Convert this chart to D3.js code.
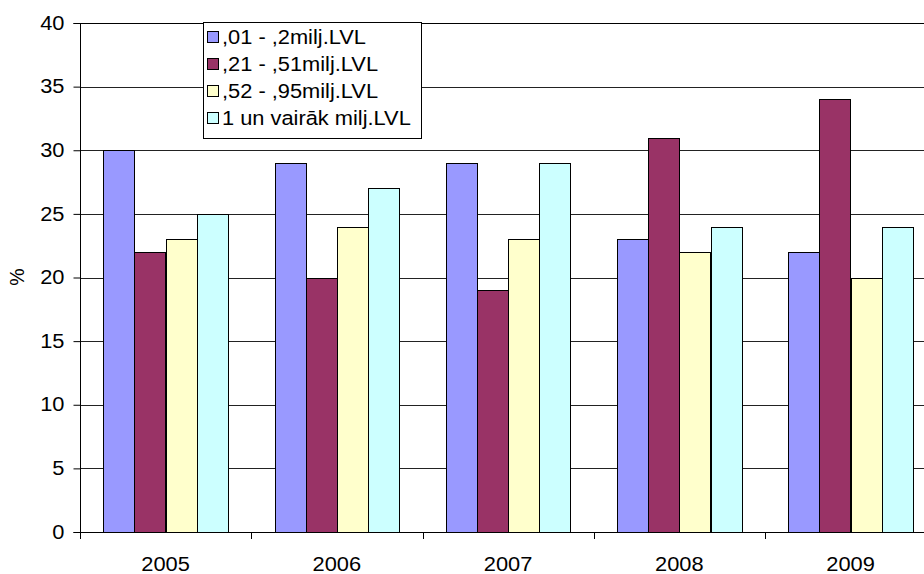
<!DOCTYPE html>
<html><head><meta charset="utf-8">
<script src="https://cdn.jsdelivr.net/npm/d3@7"></script>
<style>body{margin:0;background:#fff}svg{display:block}text{font-family:"Liberation Sans",Arial,sans-serif;fill:#000}</style>
</head><body><svg id="c" width="924" height="574"></svg>
<script>
const years = ["2005","2006","2007","2008","2009"];
const seriesNames = [",01 - ,2milj.LVL", ",21 - ,51milj.LVL", ",52 - ,95milj.LVL", "1 un vairāk milj.LVL"];
const s1 = [30, 29, 29, 23, 22];
const s2 = [22, 20, 19, 31, 34];
const s3 = [23, 24, 23, 22, 20];
const s4 = [25, 27, 29, 24, 24];
const colors = ["#9999FF", "#993366", "#FFFFCC", "#CCFFFF"];
const yTicks = [0,5,10,15,20,25,30,35,40];
const seriesVals = [s1, s2, s3, s4];

const svg = d3.select("#c");
const L = 80, T = 23, B = 532, catW = 171.25;
const R = L + catW * years.length;
const y = d3.scaleLinear().domain([0, 40]).range([B, T]);
const x0 = d3.scaleBand().domain(years).range([L, R]).padding(0);
const w = catW / 5.5;
const x1 = d3.scaleBand().domain(d3.range(4)).range([0.75 * w, 4.75 * w]).padding(0);
const fs = 19.5, sx = 1.12;

// gridlines
svg.append("g").selectAll("line").data(yTicks.filter(d => d > 0)).join("line")
  .attr("x1", L).attr("x2", R).attr("y1", d => Math.round(y(d)) + 0.5).attr("y2", d => Math.round(y(d)) + 0.5)
  .attr("stroke", d => d === 40 ? "#000" : "#222").attr("stroke-width", 1);

// bars
const g = svg.append("g");
years.forEach((yr, i) => {
  seriesVals.forEach((vals, j) => {
    g.append("rect")
      .attr("x", Math.round(x0(yr) + x1(j)) + 0.5)
      .attr("y", Math.round(y(vals[i])) + 0.5)
      .attr("width", Math.round(x1.bandwidth()))
      .attr("height", Math.round(y(0)) - Math.round(y(vals[i])))
      .attr("fill", colors[j]).attr("stroke", "#000").attr("stroke-width", 1);
  });
});

// y axis
const ya = svg.append("g").attr("transform", `translate(${L + 0.5},0)`)
  .call(d3.axisLeft(y).tickValues(yTicks).tickSize(7).tickPadding(9));
ya.select(".domain").attr("stroke", "#000").attr("d", `M-7,${T + 0.5}H0V${B + 0.5}H-7`);
ya.selectAll(".tick line").attr("stroke", "#000");
ya.selectAll(".tick text").attr("font-size", fs).attr("font-family", '"Liberation Sans",Arial,sans-serif').attr("fill", "#000")
  .attr("x", -16 / sx).attr("transform", `scale(${sx},1)`);

// x axis
const xa = svg.append("g").attr("transform", `translate(0,${B + 0.5})`)
  .call(d3.axisBottom(x0).tickSize(0).tickPadding(25));
xa.select(".domain").attr("stroke", "#000").attr("d", `M${L},0H${R}`);
xa.selectAll(".tick text").attr("font-size", fs).attr("font-family", '"Liberation Sans",Arial,sans-serif').attr("fill", "#000")
  .attr("transform", `scale(${sx},1)`);
svg.append("g").selectAll("line").data(d3.range(years.length + 1)).join("line")
  .attr("x1", d => Math.round(L + d * catW) + 0.5).attr("x2", d => Math.round(L + d * catW) + 0.5)
  .attr("y1", B).attr("y2", B + 7).attr("stroke", "#000");

// y label
svg.append("text").attr("transform", "translate(24,277) rotate(-90)")
  .attr("text-anchor", "middle").attr("font-size", fs).text("%");

// legend
const lg = svg.append("g");
lg.append("rect").attr("x", 203.5).attr("y", 22.5).attr("width", 218).attr("height", 116)
  .attr("fill", "#fff").attr("stroke", "#000");
seriesNames.forEach((n, j) => {
  const cy = 37 + j * 27;
  lg.append("rect").attr("x", 207.5).attr("y", cy - 5.5).attr("width", 11).attr("height", 11)
    .attr("fill", colors[j]).attr("stroke", "#000");
  lg.append("text").attr("transform", `translate(222,${cy}) scale(${sx},1)`)
    .attr("dy", "0.36em").attr("font-size", fs).text(n);
});
</script></body></html>
